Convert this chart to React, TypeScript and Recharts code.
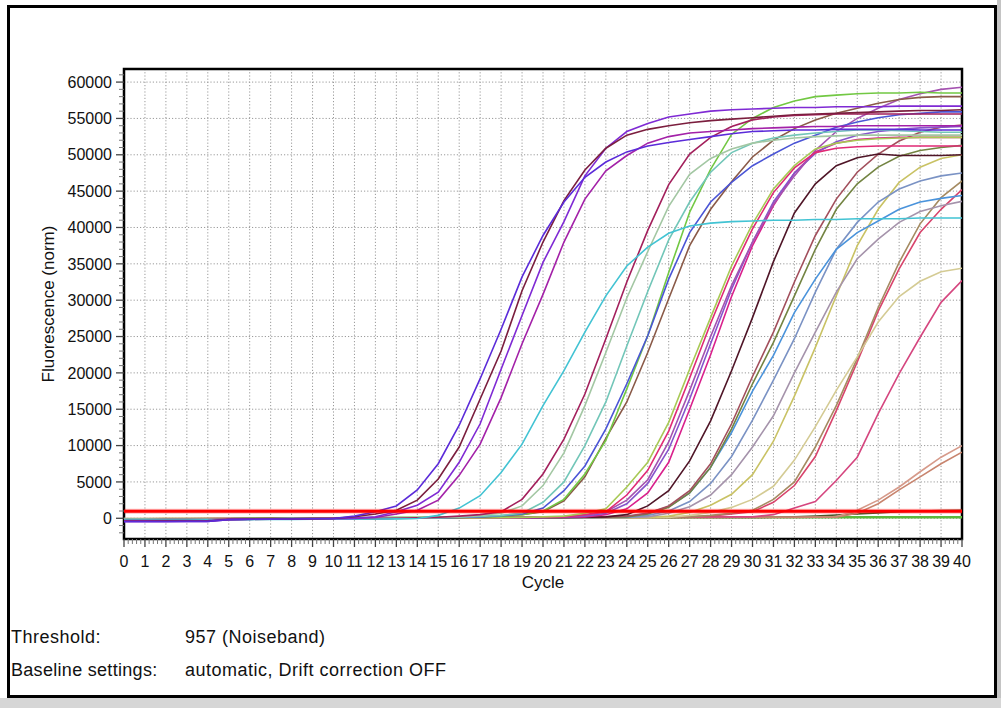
import React from 'react';
import { LineChart, Line, XAxis, YAxis, CartesianGrid, ReferenceLine, ReferenceArea } from 'recharts';

// Amplification cycles 0..40
const cycles = [0,1,2,3,4,5,6,7,8,9,10,11,12,13,14,15,16,17,18,19,20,21,22,23,24,25,26,27,28,29,30,31,32,33,34,35,36,37,38,39,40];

// Normalised fluorescence per sample, one value per cycle
const sA = [-450,-450,-440,-430,-420,-180,-140,-110,-90,-70,-40, 300,900,1700,3900,7500,12800,19200,26000,33200,38900, 43500,46900,49000,50400,51200,51700,52100,52500,52900,53200, 53300,53400,53400,53500,53500,53500,53500,53400,53400,53400];
const sB = [-400,-400,-390,-380,-370,-170,-130,-100,-80,-50,-20, 200,600,1100,2500,5400,9800,16400,23000,31300,38000, 43700,47900,50900,52700,53500,54000,54400,54700,54900,55100, 55300,55500,55600,55700,55800,55900,56000,56100,56100,56200];
const sC = [-480,-470,-460,-450,-430,-190,-150,-120,-90,-70,-50, 0,200,900,1800,3600,7700,13000,20500,27900,35200, 40800,47100,50900,53200,54300,55200,55600,56000,56200,56300, 56400,56500,56500,56600,56600,56600,56700,56700,56700,56700];
const sD = [-350,-350,-340,-330,-320,-160,-120,-100,-80,-60,-40, -20,100,600,1100,2500,5900,10200,16600,24000,30800, 38000,43900,47800,49900,51600,52500,53000,53200,53400,53600, 53700,53800,53900,53900,54000,54000,54000,54000,54000,54000];
const sE = [-250,-250,-240,-230,-220,-200,-180,-160,-150,-140,-130, -120,-100,-80,-40,400,1400,3100,6300,10200,15500, 20300,25600,30600,34700,37300,39200,40200,40600,40800,40900, 41000,41000,41100,41100,41200,41200,41200,41300,41300,41300];
const sF = [-200,-200,-190,-180,-170,-120,-100,-80,-60,-50,-40, -30,-20,0,50,150,300,500,900,2600,6100, 10900,17100,24700,32500,39600,45900,50100,52400,53900,54800, 55200,55400,55500,55600,55600,55600,55600,55600,55600,55600];
const sG = [-150,-150,-140,-130,-120,-100,-80,-60,-50,-40,-30, -20,-10,0,50,100,200,400,700,1700,4500, 9000,15500,22800,30300,36700,42900,47300,49500,50800,51600, 52000,52300,52500,52600,52700,52700,52700,52700,52700,52700];
const sH = [-150,-150,-140,-130,-120,-100,-80,-60,-50,-40,-30, -20,-10,0,30,80,150,250,400,700,2200, 5000,10000,16000,23700,31200,38300,43500,47600,50300,51600, 52300,52700,53000,53200,53400,53400,53300,53200,53100,53100];
const sI = [-150,-150,-140,-130,-120,-100,-80,-60,-50,-40,-30, -20,-10,0,30,60,120,200,350,600,1400, 3800,7200,12300,18500,25100,32900,39300,43500,46200,48500, 50100,51600,52700,53800,54500,55100,55500,55700,55900,55900];
const sJ = [-100,-100,-90,-90,-80,-60,-50,-40,-30,-30,-20, -20,-10,0,20,50,100,200,300,500,1000, 2600,6100,10700,17800,25100,33800,42100,48000,52800,55000, 56500,57400,58000,58200,58400,58500,58500,58600,58500,58500];
const sK = [-120,-120,-110,-100,-100,-80,-60,-50,-40,-30,-20, -20,-10,0,20,50,100,200,300,500,900, 2400,5700,11000,16000,22800,30200,37500,42500,46300,49700, 52000,53600,54800,55700,56400,57100,57600,57900,58000,58000];
const sL = [-100,-100,-90,-90,-80,-60,-50,-40,-30,-20,-10, 0,0,10,20,30,40,60,80,120,200, 300,700,1300,4300,7700,13200,20500,27600,34700,40500, 45300,48500,50800,51600,52000,52200,52300,52400,52400,52400];
const sM = [-120,-120,-110,-110,-100,-80,-60,-50,-40,-30,-20, -10,0,10,20,30,40,60,80,100,150, 200,500,900,3200,6600,12000,19300,26800,33800,39800, 44800,48200,50300,50900,51100,51200,51200,51200,51200,51200];
const sN = [-150,-150,-140,-130,-120,-100,-80,-60,-50,-40,-30, -20,-10,0,10,20,30,50,70,100,150, 250,400,900,2500,5300,10500,17600,25000,32000,38000, 43200,47100,50600,53200,55000,56400,57600,58400,59000,59300];
const sO = [-160,-160,-150,-140,-130,-100,-80,-60,-50,-40,-30, -20,-10,0,10,20,30,40,60,90,130, 200,300,700,2000,4800,9500,16400,24000,31500,38000, 43500,47500,50200,51800,52700,53200,53500,53700,53800,53900];
const sP = [-140,-140,-130,-120,-110,-90,-70,-60,-50,-40,-30, -20,-10,0,10,20,30,40,60,80,110, 150,200,500,1300,3500,7700,15000,22500,30500,37500, 43000,47500,50400,51600,52100,52300,52400,52400,52400,52400];
const sQ = [-100,-100,-90,-90,-80,-60,-50,-40,-30,-20,-10, 0,0,10,20,30,40,50,60,80,100, 120,150,200,500,1700,3800,7900,13400,20300,27600, 35300,42000,46000,48500,49600,50100,49900,49900,49900,50000];
const sR = [-120,-120,-110,-100,-100,-80,-60,-50,-40,-30,-20, -10,0,10,20,30,40,50,60,80,100, 120,150,200,300,700,1700,3800,7500,13000,19500, 25600,32500,38900,43900,47600,50100,51900,53100,53800,54100];
const sS = [-110,-110,-100,-100,-90,-70,-60,-50,-40,-30,-20, -10,0,10,20,30,40,50,60,70,90, 110,130,160,200,600,1500,3500,7000,12300,18500, 24200,30600,37000,42500,46000,48300,49800,50600,51000,51300];
const sT = [-130,-130,-120,-110,-100,-80,-70,-60,-50,-40,-30, -20,-10,0,10,20,30,40,50,70,90, 110,130,160,200,700,1600,3500,7000,11800,17500, 22400,28300,32900,37000,39300,40900,42500,43500,44000,44400];
const sU = [-100,-100,-90,-90,-80,-60,-50,-40,-30,-20,-10, 0,0,10,20,30,40,50,60,70,80, 90,100,100,100,400,1000,2300,4800,8500,13500, 19000,24700,31100,37000,40700,43500,45300,46400,47100,47500];
const sV = [-90,-90,-80,-80,-70,-50,-40,-30,-20,-10,0, 0,10,20,30,40,50,60,60,70,80, 90,100,110,120,200,700,1600,3200,6000,9800, 14100,20000,25600,31100,35700,38400,40700,42200,43000,43600];
const sW = [-60,-60,-50,-50,-40,-30,-20,-10,0,0,10, 10,20,30,40,40,50,50,60,60,70, 70,80,80,90,100,300,800,1800,3300,6000, 10600,16800,23500,30600,37500,42500,46200,48300,49500,50000];
const sX = [-50,-50,-40,-40,-30,-20,-10,0,0,10,10, 20,20,30,30,40,40,50,50,60,60, 70,70,80,80,90,100,400,800,1500,2600, 4400,8000,12600,17600,22200,27000,30500,32600,33900,34400];
const sY = [-80,-80,-70,-70,-60,-50,-40,-30,-20,-10,0, 0,10,20,30,40,50,60,70,80,90, 100,110,120,130,150,170,200,400,700,1100, 2600,5000,9800,15500,22000,29000,35200,40500,44100,46400];
const sZ1 = [-90,-90,-80,-80,-70,-50,-40,-30,-20,-10,0, 0,10,20,30,40,50,60,70,80,90, 100,110,120,140,160,200,250,300,600,900, 2200,4500,8500,14800,21500,28500,34300,39300,42500,45200];
const sZ2 = [-70,-70,-60,-60,-50,-40,-30,-20,-10,0,0, 10,20,30,40,50,60,70,80,90,100, 110,120,130,140,150,160,170,180,190,200, 500,1400,2300,5200,8400,14400,19900,24900,29700,32700];
const sAA = [-40,-40,-30,-30,-20,-10,0,10,20,30,40, 50,50,60,60,70,70,80,80,90,90, 100,100,110,110,120,120,130,130,140,140, 150,150,160,200,1100,2500,4300,6400,8400,10000];
const sAB = [-60,-60,-50,-50,-40,-30,-20,-10,0,10,20, 30,30,40,40,50,50,60,60,70,70, 80,80,90,90,100,100,110,110,120,120, 130,130,140,150,700,2000,3900,5700,7500,9100];
const sAC = [-100,-100,-90,-90,-80,-60,-50,-40,-30,-20,-10, 0,10,20,30,40,50,60,60,70,70, 80,80,80,90,90,90,100,100,100,100, 150,200,300,450,600,750,900,1000,1050,1100];
const sAD = [-150,-150,-140,-130,-120,-100,-80,-60,-40,-20,0, 20,40,60,80,100,110,120,130,130,140, 140,140,150,150,150,150,150,150,150,150, 150,150,150,150,150,150,150,150,150,150];

// Noiseband threshold
const threshold = 957;

// Axis tick values
const yMajorTicks = [0,5000,10000,15000,20000,25000,30000,35000,40000,45000,50000,55000,60000];
const xMajorTicks = cycles;

const series = [
  { key: 'sAD', values: sAD, color: '#5cb83c', width: 2.6 },
  { key: 'sAC', values: sAC, color: '#4d5528', width: 1.6 },
  { key: 'sAA', values: sAA, color: '#d69a8a', width: 1.6 },
  { key: 'sAB', values: sAB, color: '#c8846e', width: 1.6 },
  { key: 'sZ2', values: sZ2, color: '#d5467f', width: 1.6 },
  { key: 'sZ1', values: sZ1, color: '#d8446c', width: 1.6 },
  { key: 'sY', values: sY, color: '#a58b62', width: 1.6 },
  { key: 'sX', values: sX, color: '#d4cb94', width: 1.6 },
  { key: 'sW', values: sW, color: '#c9c264', width: 1.6 },
  { key: 'sV', values: sV, color: '#a593ab', width: 1.6 },
  { key: 'sU', values: sU, color: '#7a92c4', width: 1.6 },
  { key: 'sT', values: sT, color: '#4a93db', width: 1.6 },
  { key: 'sS', values: sS, color: '#738442', width: 1.6 },
  { key: 'sR', values: sR, color: '#a24f5c', width: 1.6 },
  { key: 'sQ', values: sQ, color: '#4f1527', width: 1.6 },
  { key: 'sP', values: sP, color: '#d9208c', width: 1.6 },
  { key: 'sO', values: sO, color: '#8654cc', width: 1.6 },
  { key: 'sN', values: sN, color: '#a452b0', width: 1.6 },
  { key: 'sM', values: sM, color: '#e02a75', width: 1.6 },
  { key: 'sL', values: sL, color: '#a8c955', width: 1.6 },
  { key: 'sK', values: sK, color: '#8a5a48', width: 1.6 },
  { key: 'sJ', values: sJ, color: '#72c843', width: 1.6 },
  { key: 'sI', values: sI, color: '#4b55d6', width: 1.6 },
  { key: 'sH', values: sH, color: '#72c6b8', width: 1.6 },
  { key: 'sG', values: sG, color: '#a3c7a3', width: 1.6 },
  { key: 'sF', values: sF, color: '#a3205c', width: 1.6 },
  { key: 'sE', values: sE, color: '#42c3d3', width: 1.6 },
  { key: 'sD', values: sD, color: '#a321a8', width: 1.6 },
  { key: 'sC', values: sC, color: '#7f2ad4', width: 1.6 },
  { key: 'sB', values: sB, color: '#7b1e3e', width: 1.6 },
  { key: 'sA', values: sA, color: '#5b2bd9', width: 1.6 },
];

const data = cycles.map((c, i) => {
  const row: Record<string, number> = { cycle: c };
  series.forEach((s) => { row[s.key] = s.values[i]; });
  return row;
});

// minor ticks: 5 per cycle on x, every 1000 on y
const xTicks: number[] = [];
for (let i = 0; i <= 200; i++) xTicks.push(Math.round(i * 2) / 10);
const yTicks: number[] = [];
for (let v = -2000; v <= 61000; v += 1000) yTicks.push(v);

const FONT = '"Liberation Sans", Arial, Helvetica, sans-serif';
const Y_MIN = -2850;
const Y_MAX = 61800;

const XTick = (props: any) => {
  const { x, y, payload } = props;
  const v = payload.value as number;
  const major = Math.abs(v - Math.round(v)) < 1e-6;
  return (
    <g>
      <line x1={x} y1={y} x2={x} y2={y + (major ? 8 : 5)} stroke={major ? '#444' : '#777'} strokeWidth={major ? 1.3 : 1} />
      {major && (
        <text x={x} y={y + 28} textAnchor="middle" fontSize={16} fontFamily={FONT} fill="#111">
          {Math.round(v)}
        </text>
      )}
    </g>
  );
};

const YTick = (props: any) => {
  const { x, y, payload } = props;
  const v = payload.value as number;
  const major = v % 5000 === 0;
  return (
    <g>
      <line x1={x - (major ? 8 : 5)} y1={y} x2={x} y2={y} stroke={major ? '#444' : '#777'} strokeWidth={major ? 1.3 : 1} />
      {major && v >= 0 && (
        <text x={x - 12} y={y + 5.7} textAnchor="end" fontSize={16} fontFamily={FONT} fill="#111">
          {v}
        </text>
      )}
    </g>
  );
};

export default function App() {
  return (
    <div style={{ position: 'absolute', left: 0, top: 0, width: 1001, height: 708, background: '#fff', overflow: 'hidden' }}>
      {/* window frame */}
      <div style={{ position: 'absolute', left: 997, top: 0, width: 4, height: 708, background: '#c4c4c4' }} />
      <div style={{ position: 'absolute', left: 0, top: 698, width: 1001, height: 10, background: '#d6d6d6' }} />
      <div style={{ position: 'absolute', left: 7, top: 5, width: 990, height: 693, border: '3px solid #000', boxSizing: 'border-box', background: '#fff' }} />

      <div style={{ position: 'absolute', left: 0, top: 0 }}>
        <LineChart width={1001} height={600} data={data} margin={{ top: 69, right: 39, bottom: 31, left: 64 }}>
          <CartesianGrid
            stroke="#9a9a9a"
            strokeDasharray="1.2 2"
            horizontalValues={yMajorTicks}
            verticalValues={xMajorTicks}
          />
          <XAxis
            dataKey="cycle"
            type="number"
            domain={[0, 40]}
            ticks={xTicks}
            interval={0}
            height={30}
            tickSize={0}
            tickMargin={0}
            axisLine={false}
            tickLine={false}
            tick={XTick}
            allowDataOverflow
          />
          <YAxis
            type="number"
            domain={[Y_MIN, Y_MAX]}
            ticks={yTicks}
            interval={0}
            width={60}
            tickSize={0}
            tickMargin={0}
            axisLine={false}
            tickLine={false}
            tick={YTick}
            allowDataOverflow
          />
          {series.map((s) => (
            <Line
              key={s.key}
              dataKey={s.key}
              type="linear"
              stroke={s.color}
              strokeWidth={s.width}
              dot={false}
              activeDot={false}
              isAnimationActive={false}
            />
          ))}
          <ReferenceLine y={threshold} stroke="rgba(255,0,0,0.25)" strokeWidth={5} />
          <ReferenceLine y={threshold} stroke="#ff0000" strokeWidth={3} />
          <ReferenceArea x1={0} x2={40} y1={Y_MIN} y2={Y_MAX} fill="none" fillOpacity={0} stroke="#000" strokeWidth={2.5} />
        </LineChart>
      </div>

      <svg width={1001} height={708} style={{ position: 'absolute', left: 0, top: 0, pointerEvents: 'none' }}>
        <text x={54} y={304} transform="rotate(-90, 54, 304)" textAnchor="middle" fontSize={17} fontFamily={FONT} fill="#111">
          Fluorescence (norm)
        </text>
        <text x={543} y={588} textAnchor="middle" fontSize={17} fontFamily={FONT} fill="#111">
          Cycle
        </text>
        <text x={11} y={643} fontSize={18} fontFamily={FONT} fill="#111" letterSpacing={0.5}>Threshold:</text>
        <text x={185} y={643} fontSize={18} fontFamily={FONT} fill="#111" letterSpacing={0.5}>957 (Noiseband)</text>
        <text x={11} y={676} fontSize={18} fontFamily={FONT} fill="#111" letterSpacing={0.3}>Baseline settings:</text>
        <text x={185} y={676} fontSize={18} fontFamily={FONT} fill="#111" letterSpacing={0.5}>automatic, Drift correction OFF</text>
      </svg>
    </div>
  );
}
